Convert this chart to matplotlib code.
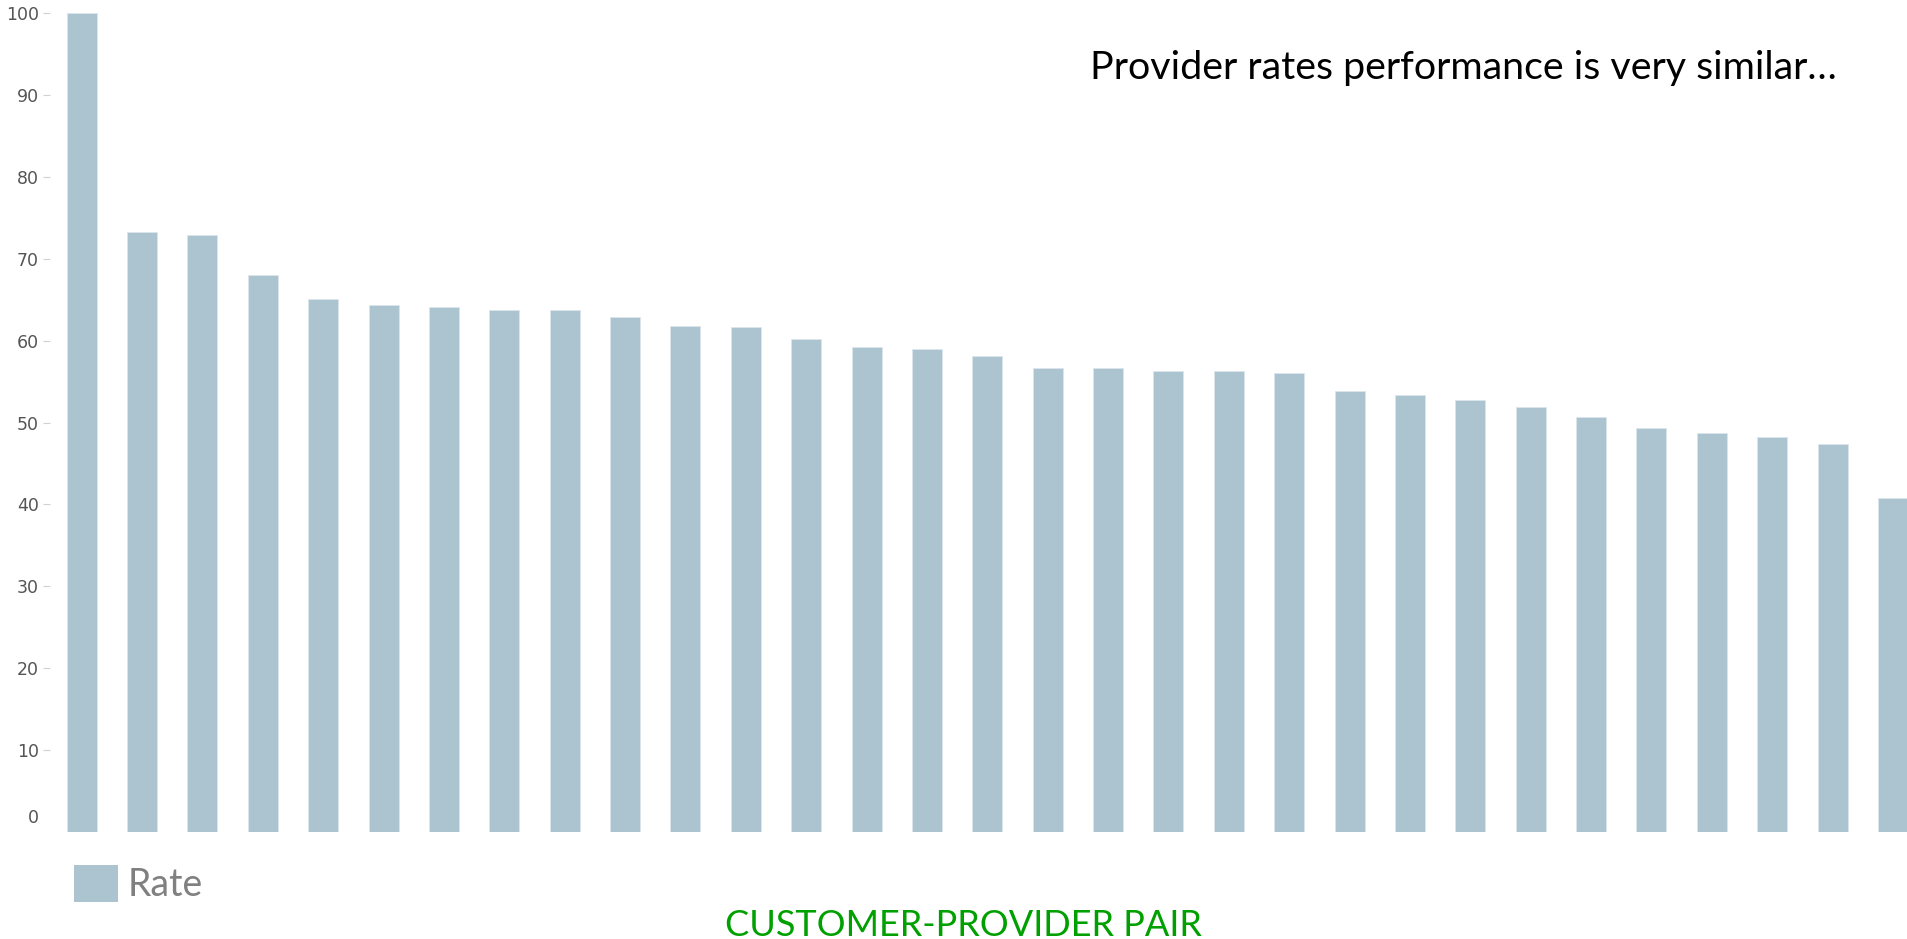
import matplotlib
matplotlib.use("Agg")
import matplotlib.pyplot as plt
import numpy as np
from matplotlib.patches import Patch

# rate per customer-provider pair, sorted high to low
rates = [100.0, 73.3, 72.9, 68.0, 65.1, 64.3, 64.1, 63.7, 63.7, 62.9,
         61.8, 61.6, 60.2, 59.2, 59.0, 58.1, 56.7, 56.7, 56.3, 56.3,
         56.1, 53.8, 53.4, 52.8, 51.9, 50.7, 49.3, 48.7, 48.2, 47.4, 40.8]
y_ticks = [0, 10, 20, 30, 40, 50, 60, 70, 80, 90, 100]
title_text = "Provider rates performance is very similar…"
xlabel_text = "CUSTOMER-PROVIDER PAIR"
legend_label = "Rate"

bar_color = "#abc4cf"
W, H = 1908, 939

fig = plt.figure(figsize=(W / 100, H / 100), dpi=100)
ax = fig.add_axes([50 / W, (H - 832) / H, (W - 50) / W, (832 - 13) / H])

x = np.arange(len(rates))
bw = 30 / 60.38
ax.bar(x, rates, width=bw, color=bar_color, edgecolor="#dbe6eb", linewidth=0.6)

ax.set_xlim(-0.525, len(rates) - 1 + bw / 2)
ax.set_ylim(0, 100)

for s in ax.spines.values():
    s.set_visible(False)
ax.set_xticks([])
ax.set_yticks(y_ticks[1:])
ax.set_yticklabels([str(t) for t in y_ticks[1:]])
ax.tick_params(axis="y", length=5, width=0.8, color="#d0d0d0", pad=3,
               labelsize=12.5, labelcolor="#555555")
# the zero label sits a little above the baseline and has no tick mark
ax.annotate(str(y_ticks[0]), xy=(0, y_ticks[0]), xycoords=("axes fraction", "data"),
            xytext=(-8, 10), textcoords="offset points", ha="right", va="center",
            fontsize=12.5, color="#555555")

fig.text(1837 / W, 1 - 68 / H, title_text, ha="right", va="center",
         fontsize=28.4, family="Lato", color="black")
fig.text(963 / W, 1 - 925 / H, xlabel_text, ha="center", va="center",
         fontsize=26, family="Lato", color="#00a000")

fs = 27
fpx = fs * 100 / 72
fig.legend(handles=[Patch(facecolor=bar_color, edgecolor="none", label=legend_label)],
           loc="center left", bbox_to_anchor=(74 / W, 1 - 884 / H), frameon=False,
           borderpad=0, borderaxespad=0, handlelength=44 / fpx, handleheight=43 / fpx,
           handletextpad=10 / fpx, labelcolor="#808080",
           prop={"family": "Lato", "size": fs})

fig.savefig("out.png", dpi=100)
